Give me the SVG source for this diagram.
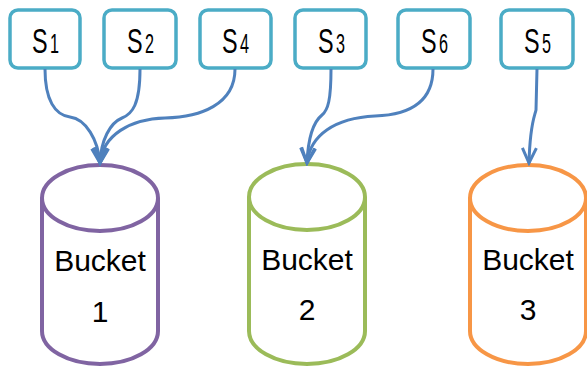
<svg xmlns="http://www.w3.org/2000/svg" width="587" height="367" viewBox="0 0 587 367">
<style>
.box{fill:#fff;stroke:#4BACC6;stroke-width:3.5}
.st{font-family:"Liberation Sans",Arial,sans-serif;font-size:36px;fill:#000}
.sub{font-family:"Liberation Sans",Arial,sans-serif;font-size:27px;fill:#000}
.cyl{fill:#fff;stroke-width:4}
.bt{font-family:"Liberation Sans",Arial,sans-serif;font-size:30px;fill:#000;text-anchor:middle}
.con{fill:none;stroke:#4F81BD;stroke-width:3;marker-end:url(#arr)}
</style>
<defs>
<marker id="arr" markerUnits="userSpaceOnUse" viewBox="0 0 20 20" markerWidth="20" markerHeight="20" refX="17" refY="10" orient="auto">
<path d="M2,3 L17,10 L2,17" fill="none" stroke="#4F81BD" stroke-width="3" stroke-linejoin="miter"/>
</marker>
</defs>
<rect width="587" height="367" fill="#fff"/>
<g id="s1"><rect class="box" x="10" y="10" width="70" height="58" rx="8"/><text class="st" transform="translate(32,53) scale(0.65,1)">S</text><text class="sub" transform="translate(50,53) scale(0.6,1)">1</text></g>
<g id="s2"><rect class="box" x="104" y="10" width="72" height="58" rx="8"/><text class="st" transform="translate(127,53) scale(0.65,1)">S</text><text class="sub" transform="translate(145,53) scale(0.6,1)">2</text></g>
<g id="s4"><rect class="box" x="200" y="10" width="71" height="58" rx="8"/><text class="st" transform="translate(222,53) scale(0.65,1)">S</text><text class="sub" transform="translate(240,53) scale(0.6,1)">4</text></g>
<g id="s3"><rect class="box" x="295" y="10" width="71" height="58" rx="8"/><text class="st" transform="translate(318,53) scale(0.65,1)">S</text><text class="sub" transform="translate(336,53) scale(0.6,1)">3</text></g>
<g id="s6"><rect class="box" x="398" y="10" width="72" height="58" rx="8"/><text class="st" transform="translate(421,53) scale(0.65,1)">S</text><text class="sub" transform="translate(439,53) scale(0.6,1)">6</text></g>
<g id="s5"><rect class="box" x="501" y="10" width="72" height="58" rx="8"/><text class="st" transform="translate(524,53) scale(0.65,1)">S</text><text class="sub" transform="translate(542,53) scale(0.6,1)">5</text></g>
<g id="bucket1">
<path class="cyl" stroke="#8064A2" d="M42,198 L42,331 A58,33 0 0 0 158,331 L158,198 A58,33 0 0 0 42,198 A58,33 0 0 0 158,198"/>
<text class="bt" x="100" y="271">Bucket</text><text class="bt" x="100" y="322">1</text>
</g>
<g id="bucket2">
<path class="cyl" stroke="#9BBB59" d="M249,197 L249,331 A58,33 0 0 0 365,331 L365,197 A58,33 0 0 0 249,197 A58,33 0 0 0 365,197"/>
<text class="bt" x="307" y="270">Bucket</text><text class="bt" x="307" y="320">2</text>
</g>
<g id="bucket3">
<path class="cyl" stroke="#F79646" d="M470,198 L470,331 A58,33 0 0 0 586,331 L586,198 A58,33 0 0 0 470,198 A58,33 0 0 0 586,198"/>
<text class="bt" x="528" y="270">Bucket</text><text class="bt" x="528" y="320">3</text>
</g>
<g id="connectors">
<path class="con" d="M45,69 C45,100 55,115 70,117 C86,119 98,140 100,163"/>
<path class="con" d="M140,69 C140,105 132,114 122,118 C110,123 101,140 100,163"/>
<path class="con" d="M235,69 C235,105 200,117 165,118 C130,119 103,135 100,163"/>
<path class="con" d="M331,69 C331,100 328,110 322,115 C312,123 308,140 307,163"/>
<path class="con" d="M433,69 C433,105 405,115 375,116 C335,118 310,135 307,163"/>
<path class="con" d="M537,69 L536,110 C534,118 530,125 529,163"/>
</g>
</svg>
